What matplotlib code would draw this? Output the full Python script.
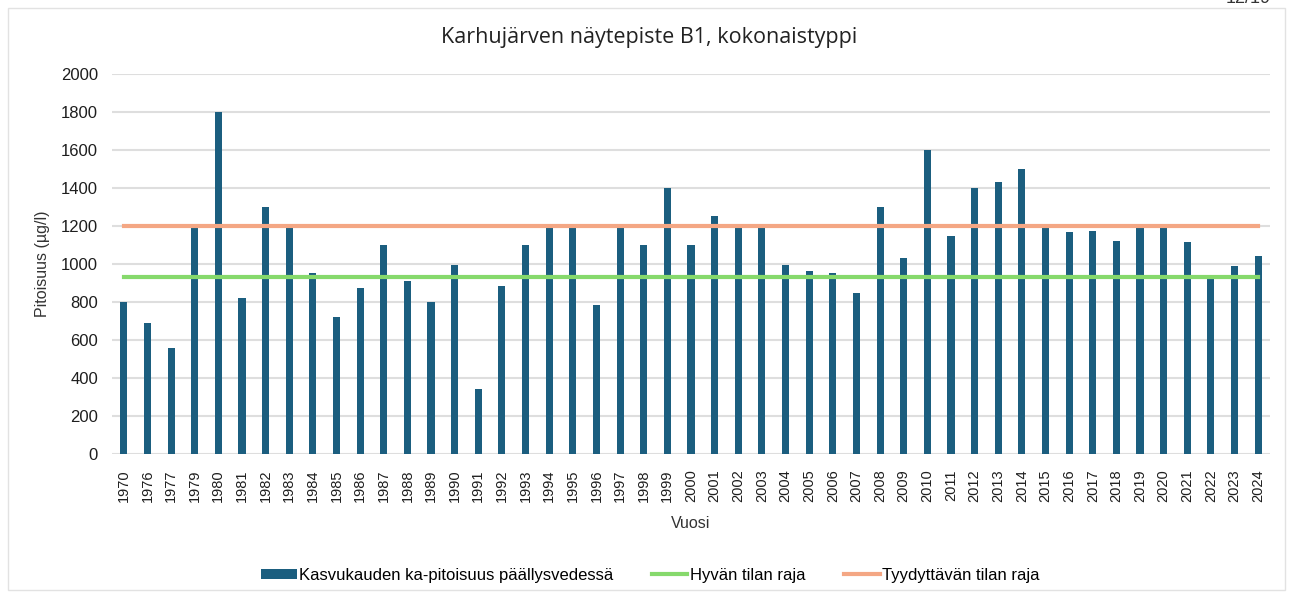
import matplotlib.pyplot as plt
from matplotlib.patches import Rectangle
import numpy as np

vuodet = ['1970', '1976', '1977', '1979', '1980', '1981', '1982', '1983', '1984', '1985',
          '1986', '1987', '1988', '1989', '1990', '1991', '1992', '1993', '1994', '1995',
          '1996', '1997', '1998', '1999', '2000', '2001', '2002', '2003', '2004', '2005',
          '2006', '2007', '2008', '2009', '2010', '2011', '2012', '2013', '2014', '2015',
          '2016', '2017', '2018', '2019', '2020', '2021', '2022', '2023', '2024']
pitoisuus = [800, 690, 560, 1190, 1800, 820, 1300, 1190, 950, 720,
             875, 1100, 910, 800, 995, 340, 885, 1100, 1190, 1190,
             785, 1190, 1100, 1400, 1100, 1250, 1190, 1190, 995, 965,
             955, 845, 1300, 1030, 1600, 1145, 1400, 1430, 1500, 1190,
             1170, 1175, 1120, 1190, 1190, 1115, 920, 990, 1040]
hyva_raja = 930
tyydyttava_raja = 1200

plt.rcParams['font.family'] = ['Liberation Sans', 'DejaVu Sans']

fig = plt.figure(figsize=(12.9, 5.98), dpi=100)
ax = fig.add_axes([0.0868, 0.2408, 0.8977, 0.6355])

x = np.arange(len(vuodet))
b = ax.bar(x, pitoisuus, width=0.3, color='#1b5e7f', zorder=2,
           label='Kasvukauden ka-pitoisuus päällysvedessä')
l1, = ax.plot(x, [hyva_raja] * len(x), color='#86d96c', linewidth=3, zorder=3,
              label='Hyvän tilan raja')
l2, = ax.plot(x, [tyydyttava_raja] * len(x), color='#f4a784', linewidth=3, zorder=3,
              label='Tyydyttävän tilan raja')

ax.set_xlim(-0.5, len(x) - 0.5)
ax.set_ylim(0, 2000)
ax.set_yticks(np.arange(0, 2001, 200))
ax.set_xticks(x)
ax.set_xticklabels(vuodet, rotation=90, fontsize=10.5, color='#1e1e1e')
ax.tick_params(axis='y', labelsize=12, labelcolor='#1e1e1e', length=0, pad=10)
ax.tick_params(axis='x', length=0, pad=11)
ax.grid(axis='y', color='#dedede', linewidth=1.5, zorder=0)
for s in ax.spines.values():
    s.set_visible(False)

fig.text(0.503, 0.937, 'Karhujärven näytepiste B1, kokonaistyppi', fontsize=15.5,
         family=['Open Sans', 'DejaVu Sans'], color='#222222', ha='center', va='center')
ax.set_xlabel('Vuosi', fontsize=11.5, color='#333333', labelpad=10)
ax.set_ylabel('Pitoisuus (µg/l)', fontsize=11.5, color='#333333', labelpad=8)

fig.legend(handles=[b, l1, l2], loc='center', bbox_to_anchor=(0.504, 0.038), ncol=3,
           frameon=False, handlelength=2.15, handleheight=0.5, handletextpad=0.15,
           columnspacing=2.3, prop={'size': 12})

fig.patches.append(Rectangle((8 / 1290, 8 / 598), 1277 / 1290, 582 / 598,
                             transform=fig.transFigure, fill=False,
                             edgecolor='#e2e2e2', linewidth=1))
fig.text(0.985, 1.003, '12/19', ha='right', va='center', fontsize=13, color='#333333')

fig.savefig('out.png', dpi=100)
